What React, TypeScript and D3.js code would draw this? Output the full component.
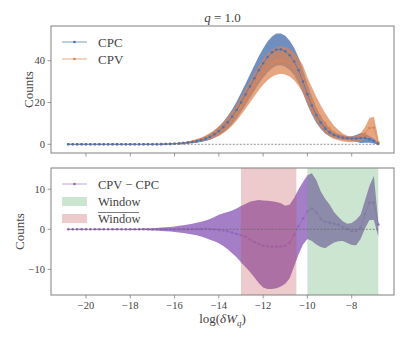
import React from "react";
import * as d3 from "d3";

// x bins (log δW_q)
const xs = [
  -20.8, -20.6, -20.4, -20.2, -20.0, -19.8, -19.6, -19.4, -19.2, -19.0,
  -18.8, -18.6, -18.4, -18.2, -18.0, -17.8, -17.6, -17.4, -17.2, -17.0,
  -16.8, -16.6, -16.4, -16.2, -16.0, -15.8, -15.6, -15.4, -15.2, -15.0,
  -14.8, -14.6, -14.4, -14.2, -14.0, -13.8, -13.6, -13.4, -13.2, -13.0,
  -12.8, -12.6, -12.4, -12.2, -12.0, -11.8, -11.6, -11.4, -11.2, -11.0,
  -10.8, -10.6, -10.4, -10.2, -10.0, -9.8, -9.6, -9.4, -9.2, -9.0,
  -8.8, -8.6, -8.4, -8.2, -8.0, -7.8, -7.6, -7.4, -7.2, -7.0, -6.8,
];

const cpcMean = [
  0, 0, 0, 0, 0, 0, 0, 0, 0, 0, 0, 0, 0, 0, 0, 0, 0, 0, 0, 0,
  0.05, 0.08, 0.12, 0.18, 0.27, 0.4, 0.58, 0.82, 1.1, 1.5,
  2.0, 2.7, 3.6, 4.8, 6.3, 8.2, 10.5, 13.2, 16.4, 20.0,
  23.8, 27.7, 31.6, 35.4, 38.8, 41.8, 44.0, 45.3, 45.4, 44.5,
  42.6, 39.6, 35.4, 30.0, 24.0, 18.6, 14.0, 10.4, 7.6, 5.7,
  4.5, 3.7, 3.2, 2.9, 2.8, 2.8, 3.0, 3.0, 2.4, 1.6, 0.3,
];
const cpcErr = [
  0, 0, 0, 0, 0, 0, 0, 0, 0, 0, 0, 0, 0, 0, 0, 0, 0, 0, 0, 0,
  0.03, 0.05, 0.08, 0.12, 0.17, 0.24, 0.32, 0.42, 0.55, 0.7,
  0.9, 1.1, 1.4, 1.7, 2.1, 2.5, 3.0, 3.5, 4.0, 4.6,
  5.1, 5.6, 6.1, 6.6, 7.0, 7.4, 7.6, 7.7, 7.6, 7.4,
  7.0, 6.6, 6.1, 5.6, 5.0, 4.4, 3.7, 3.0, 2.4, 1.9,
  1.5, 1.2, 1.1, 1.0, 1.1, 1.6, 2.4, 2.2, 1.6, 1.2, 0.5,
];
const cpvMean = [
  0, 0, 0, 0, 0, 0, 0, 0, 0, 0, 0, 0, 0, 0, 0, 0, 0, 0, 0, 0,
  0.05, 0.08, 0.13, 0.2, 0.3, 0.45, 0.65, 0.9, 1.25, 1.7,
  2.3, 3.0, 3.9, 5.0, 6.3, 8.0, 10.0, 12.4, 15.2, 18.3,
  21.6, 25.0, 28.4, 31.7, 34.6, 37.0, 38.8, 39.9, 40.3, 40.0,
  39.0, 37.2, 34.6, 31.2, 25.5, 21.0, 16.8, 13.2, 10.2, 7.7,
  5.7, 4.4, 3.3, 2.6, 2.3, 2.5, 3.3, 5.2, 7.8, 8.0, 1.0,
];
const cpvErr = [
  0, 0, 0, 0, 0, 0, 0, 0, 0, 0, 0, 0, 0, 0, 0, 0, 0, 0, 0, 0,
  0.03, 0.05, 0.08, 0.12, 0.18, 0.26, 0.36, 0.48, 0.62, 0.8,
  1.0, 1.25, 1.55, 1.9, 2.3, 2.7, 3.1, 3.5, 3.9, 4.3,
  4.7, 5.1, 5.5, 5.8, 6.1, 6.3, 6.5, 6.6, 6.6, 6.6,
  6.6, 6.6, 6.6, 6.6, 6.5, 6.3, 6.0, 5.5, 4.8, 4.0,
  3.2, 2.5, 1.9, 1.5, 1.3, 1.4, 2.0, 3.0, 4.8, 5.2, 2.0,
];

const diffMean = [
  0, 0, 0, 0, 0, 0, 0, 0, 0, 0, 0, 0, 0, 0, 0, 0, 0, 0, 0, 0,
  0, 0, 0, 0, 0, 0.02, 0.03, 0.04, 0.05, 0.06,
  0.08, 0.1, 0.05, -0.05, -0.15, -0.3, -0.5, -0.8, -1.2, -1.5,
  -1.8, -2.5, -3.2, -3.7, -4.1, -4.3, -4.35, -4.35, -4.3, -4.1,
  -3.3, -1.4, 0.8, 2.7, 4.4, 5.2, 4.2, 2.6, 1.9, 1.6,
  1.4, 1.1, 0.5, 0.1, -0.5, -0.4, 0.4, 3.8, 6.7, 6.6, 1.2,
];
const diffHi = [
  0, 0, 0, 0, 0, 0, 0, 0, 0, 0,
  0.02, 0.03, 0.04, 0.05, 0.07, 0.1, 0.13, 0.17, 0.22, 0.28,
  0.35, 0.42, 0.5, 0.6, 0.72, 0.86, 1.0, 1.2, 1.4, 1.65,
  1.9, 2.2, 2.6, 3.1, 3.6, 4.0, 4.3, 4.7, 5.2, 5.8,
  6.3, 6.9, 7.1, 7.3, 7.2, 7.1, 7.0, 6.8, 6.5, 5.9,
  6.2, 7.8, 10.0, 11.8, 13.5, 14.0, 12.3, 9.5, 7.6, 6.2,
  4.3, 3.1, 2.0, 1.4, 1.6, 2.4, 3.6, 7.2, 10.8, 13.3, 2.0,
];
const diffLo = [
  0, 0, 0, 0, 0, 0, 0, 0, 0, 0,
  -0.02, -0.03, -0.04, -0.05, -0.07, -0.1, -0.13, -0.17, -0.22, -0.28,
  -0.33, -0.4, -0.48, -0.57, -0.68, -0.8, -0.95, -1.1, -1.3, -1.5,
  -1.8, -2.2, -2.6, -3.0, -3.5, -4.2, -5.0, -6.0, -7.0, -8.2,
  -9.4, -10.6, -12.0, -13.4, -14.5, -14.9, -14.9, -14.7, -14.3, -13.6,
  -12.2, -9.2, -6.3, -3.8, -2.4, -2.9, -3.8, -4.4, -4.7, -4.0,
  -3.3, -3.0, -2.9, -3.4, -3.9, -4.0, -2.4, 0.2, 2.3, 2.3, -1.8,
];

const windowRange = [-10.0, -6.8];
const antiWindowRange = [-13.0, -10.5];

const xTicks = [-20, -18, -16, -14, -12, -10, -8];
const topYTicks = [0, 20, 40];
const botYTicks = [-10, 0, 10];

const C_BLUE = "#4C72B0";
const C_ORANGE = "#DD8452";
const C_PURPLE = "#9467bd";
const C_GREEN = "#55A868";
const C_RED = "#C44E52";
const TXT = "#444";
const SPINE = "#808080";
const FONT = "'Liberation Serif', 'DejaVu Serif', serif";

const L = 51, R = 394;
const topY0 = 26, topY1 = 153;
const botY0 = 168, botY1 = 295;

const fmt = (v: number) => (v < 0 ? "\u2212" + Math.abs(v) : String(v));

export default function App() {
  const x = d3.scaleLinear().domain([-21.58, -6.09]).range([L, R]);
  const yT = d3.scaleLinear().domain([-4.16, 56.6]).range([topY1, topY0]);
  const yB = d3.scaleLinear().domain([-16.4, 15.3]).range([botY1, botY0]);

  const idx = xs.map((_, i) => i);
  const band = (lo: (i: number) => number, hi: (i: number) => number, ys: d3.ScaleLinear<number, number>) =>
    d3.area<number>().x((i) => x(xs[i])).y0((i) => ys(lo(i))).y1((i) => ys(hi(i)))(idx) || "";
  const line = (vals: number[], ys: d3.ScaleLinear<number, number>) =>
    d3.line<number>().x((i) => x(xs[i])).y((i) => ys(vals[i]))(idx) || "";

  const cpcBand = band((i) => cpcMean[i] - cpcErr[i], (i) => cpcMean[i] + cpcErr[i], yT);
  const cpvBand = band((i) => cpvMean[i] - cpvErr[i], (i) => cpvMean[i] + cpvErr[i], yT);
  const diffBand = band((i) => diffLo[i], (i) => diffHi[i], yB);

  const xAxis = (y1: number, labels: boolean) => (
    <g>
      {xTicks.map((t) => (
        <g key={t}>
          <line x1={x(t)} x2={x(t)} y1={y1} y2={y1 + 3.5} stroke={SPINE} strokeWidth={0.8} />
          {labels && (
            <text x={x(t)} y={y1 + 14} textAnchor="middle" fontSize={10.5} fill={TXT} fontFamily={FONT}>
              {fmt(t)}
            </text>
          )}
        </g>
      ))}
    </g>
  );
  const yAxis = (ticks: number[], ys: d3.ScaleLinear<number, number>) => (
    <g>
      {ticks.map((t) => (
        <g key={t}>
          <line x1={L - 3.5} x2={L} y1={ys(t)} y2={ys(t)} stroke={SPINE} strokeWidth={0.8} />
          <text x={L - 6} y={ys(t) + 3.7} textAnchor="end" fontSize={10.5} fill={TXT} fontFamily={FONT}>
            {fmt(t)}
          </text>
        </g>
      ))}
    </g>
  );

  return (
    <svg width={407} height={339} style={{ position: "absolute", left: 0, top: 0, background: "#fff" }}>
      <defs>
        <clipPath id="clipT"><rect x={L} y={topY0} width={R - L} height={topY1 - topY0} /></clipPath>
        <clipPath id="clipB"><rect x={L} y={botY0} width={R - L} height={botY1 - botY0} /></clipPath>
      </defs>

      {/* Title */}
      <text x={(L + R) / 2} y={22} textAnchor="middle" fontSize={13} fill={TXT} fontFamily={FONT}>
        <tspan fontStyle="italic">q</tspan> = 1.0
      </text>

      {/* ---------- Top panel ---------- */}
      <g clipPath="url(#clipT)">
        <path d={cpcBand} fill={C_BLUE} fillOpacity={0.8} stroke="none" />
        <path d={cpvBand} fill={C_ORANGE} fillOpacity={0.72} stroke="none" />
        <line x1={x(xs[0])} x2={x(xs[xs.length - 1])} y1={yT(0)} y2={yT(0)} stroke="#666" strokeWidth={0.7} strokeDasharray="2,1.5" />
        <path d={line(cpvMean, yT)} fill="none" stroke={C_ORANGE} strokeWidth={1} strokeOpacity={0.7} />
        {idx.map((i) => (
          <circle key={"o" + i} cx={x(xs[i])} cy={yT(cpvMean[i])} r={1.3} fill={C_ORANGE} />
        ))}
        <path d={line(cpcMean, yT)} fill="none" stroke={C_BLUE} strokeWidth={1} strokeOpacity={0.7} />
        {idx.map((i) => (
          <circle key={"b" + i} cx={x(xs[i])} cy={yT(cpcMean[i])} r={1.3} fill={C_BLUE} />
        ))}
      </g>
      <rect x={L} y={topY0} width={R - L} height={topY1 - topY0} fill="none" stroke={SPINE} strokeWidth={1} />
      {xAxis(topY1, false)}
      {yAxis(topYTicks, yT)}
      <text transform={`translate(33,${(topY0 + topY1) / 2}) rotate(-90)`} textAnchor="middle" fontSize={13} fill={TXT} fontFamily={FONT}>
        Counts
      </text>

      {/* Top legend */}
      <g fontFamily={FONT} fontSize={13} fill={TXT}>
        <line x1={62} x2={87} y1={42} y2={42} stroke={C_BLUE} strokeOpacity={0.7} strokeWidth={1} />
        <circle cx={74.5} cy={42} r={1.3} fill={C_BLUE} />
        <text x={98} y={46.5}>CPC</text>
        <line x1={62} x2={87} y1={59} y2={59} stroke={C_ORANGE} strokeOpacity={0.7} strokeWidth={1} />
        <circle cx={74.5} cy={59} r={1.3} fill={C_ORANGE} />
        <text x={98} y={63.5}>CPV</text>
      </g>

      {/* ---------- Bottom panel ---------- */}
      <g clipPath="url(#clipB)">
        <path d={diffBand} fill={C_PURPLE} fillOpacity={0.85} stroke="none" />
        <path d={line(diffMean, yB)} fill="none" stroke={C_PURPLE} strokeWidth={1} strokeOpacity={0.7} />
        {idx.map((i) => (
          <circle key={"p" + i} cx={x(xs[i])} cy={yB(diffMean[i])} r={1.3} fill={C_PURPLE} />
        ))}
        <rect x={x(windowRange[0])} y={botY0} width={x(windowRange[1]) - x(windowRange[0])} height={botY1 - botY0} fill={C_GREEN} fillOpacity={0.3} />
        <rect x={x(antiWindowRange[0])} y={botY0} width={x(antiWindowRange[1]) - x(antiWindowRange[0])} height={botY1 - botY0} fill={C_RED} fillOpacity={0.3} />
        <line x1={x(xs[0])} x2={x(xs[xs.length - 1])} y1={yB(0)} y2={yB(0)} stroke="#666" strokeWidth={0.7} strokeDasharray="2,1.5" />
      </g>
      <rect x={L} y={botY0} width={R - L} height={botY1 - botY0} fill="none" stroke={SPINE} strokeWidth={1} />
      {xAxis(botY1, true)}
      {yAxis(botYTicks, yB)}
      <text transform={`translate(23.5,${(botY0 + botY1) / 2}) rotate(-90)`} textAnchor="middle" fontSize={13} fill={TXT} fontFamily={FONT}>
        Counts
      </text>
      <text x={(L + R) / 2} y={323} textAnchor="middle" fontSize={13} fill={TXT} fontFamily={FONT}>
        <tspan>log(</tspan>
        <tspan fontStyle="italic">δW</tspan>
        <tspan fontStyle="italic" fontSize={9} dy={3}>q</tspan>
        <tspan dy={-3}>)</tspan>
      </text>

      {/* Bottom legend */}
      <g fontFamily={FONT} fontSize={12.5} fill={TXT}>
        <line x1={62} x2={87} y1={184} y2={184} stroke={C_PURPLE} strokeOpacity={0.6} strokeWidth={1} />
        <circle cx={74.5} cy={184} r={1.3} fill={C_PURPLE} />
        <text x={98} y={188.5}>CPV − CPC</text>
        <rect x={62} y={197} width={25} height={9} fill={C_GREEN} fillOpacity={0.3} />
        <text x={98} y={205.5}>Window</text>
        <rect x={62} y={214} width={25} height={9} fill={C_RED} fillOpacity={0.3} />
        <text x={98} y={222.5}>Window</text>
        <line x1={98} x2={139} y1={212.5} y2={212.5} stroke={TXT} strokeWidth={0.7} />
      </g>
    </svg>
  );
}
